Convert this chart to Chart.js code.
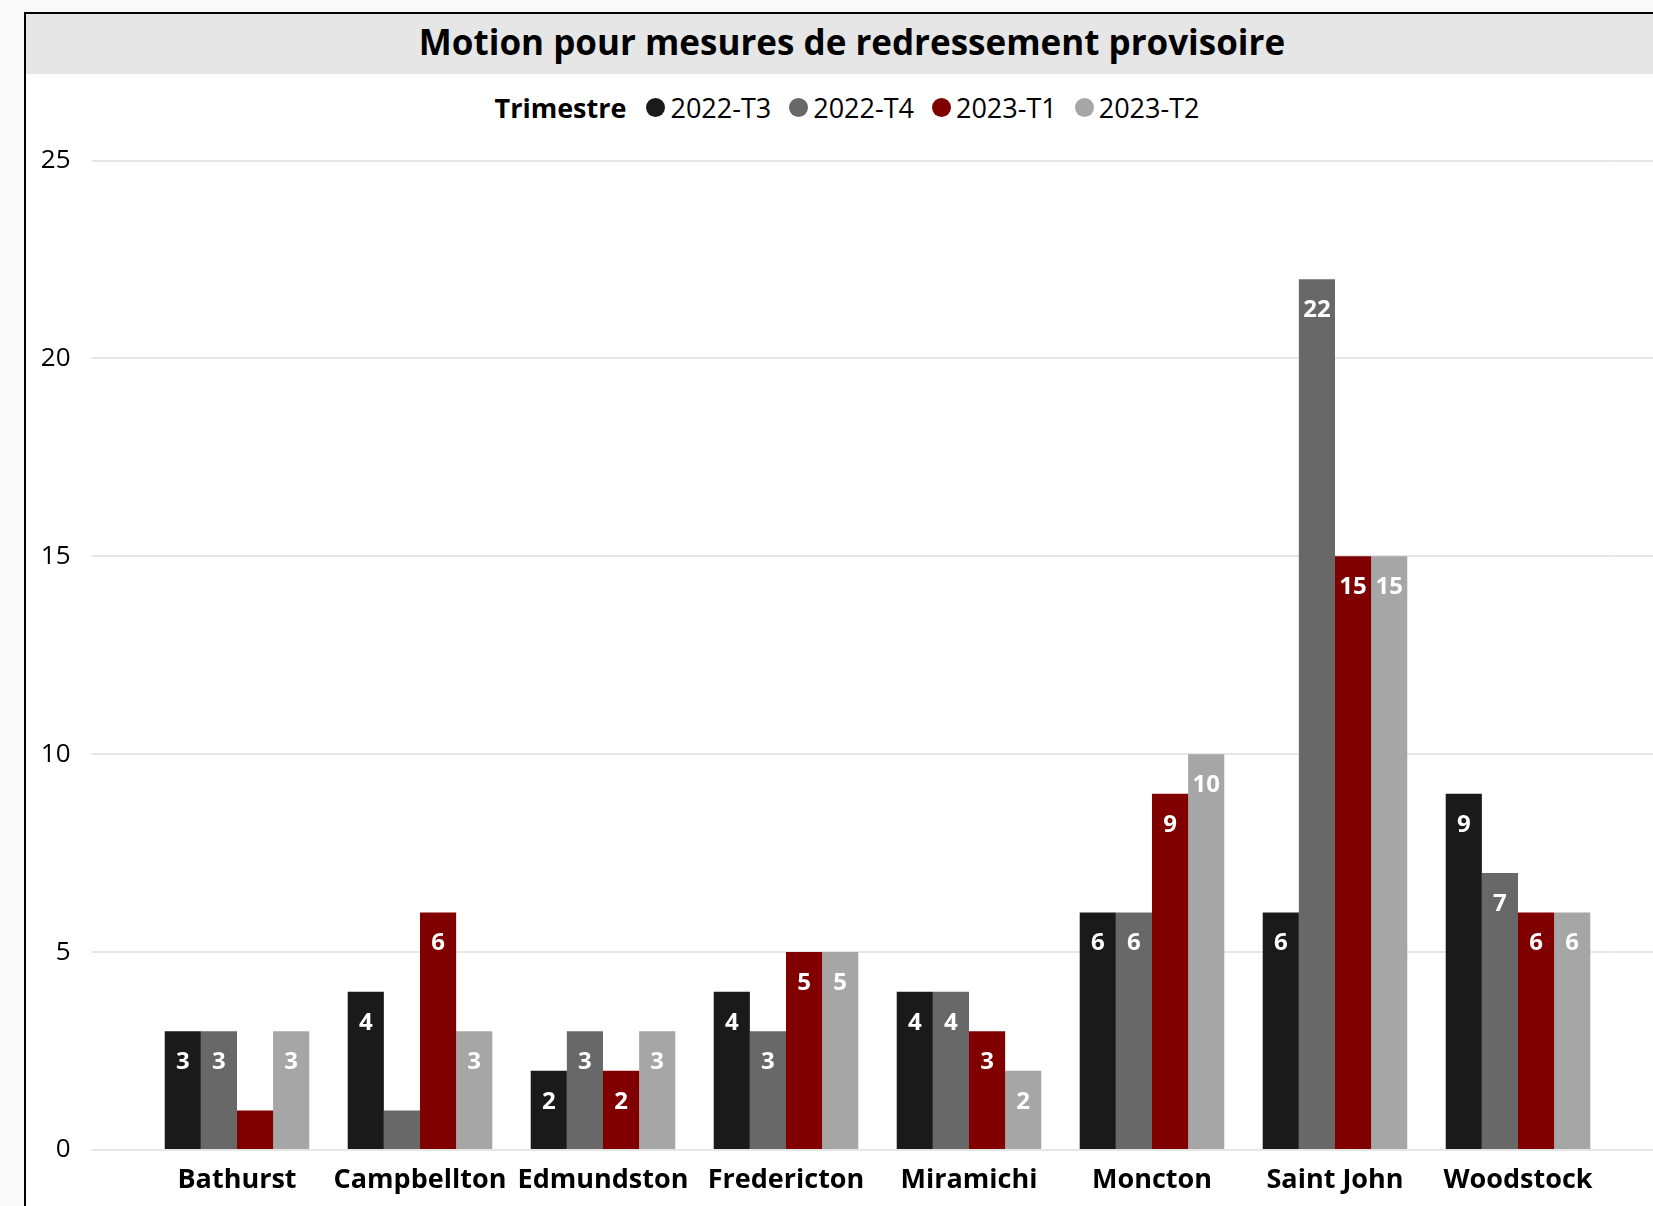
<!DOCTYPE html>
<html>
<head>
<meta charset="utf-8">
<script src="https://cdn.jsdelivr.net/npm/chart.js@4.4.1/dist/chart.umd.min.js"></script>
<style>
  html, body { margin:0; padding:0; }
  body { width:1653px; height:1206px; overflow:hidden; background:#f9f9f9; position:relative; font-family:'Open Sans', sans-serif; }
  #frame { position:absolute; left:24px; top:12px; width:1652px; height:1300px; background:#fff; border-left:2px solid #000; border-top:2px solid #000; }
  #title { position:absolute; left:0; top:0; width:1652px; height:60px; background:#e6e6e6; text-align:center; line-height:56px; font-weight:700; font-size:35px; color:#000; }
  #legend { position:absolute; left:0; top:73px; width:1652px; height:40px; display:flex; align-items:center; justify-content:center; font-size:27px; color:#000; padding-right:10px; box-sizing:border-box; }
  #legend .ttl { font-weight:700; margin-right:20px; }
  #legend .item { display:flex; align-items:center; margin-right:18px; }
  #legend .item:last-child { margin-right:0; }
  #legend .dot { width:19px; height:19px; border-radius:50%; margin-right:5px; }
  #cv { position:absolute; left:0; top:110px; }
</style>
</head>
<body>
<div id="frame">
  <div id="title">Motion pour mesures de redressement provisoire</div>
  <div id="legend"></div>
  <canvas id="cv" width="1652" height="1082"></canvas>
</div>
<script>
const categories = ["Bathurst","Campbellton","Edmundston","Fredericton","Miramichi","Moncton","Saint John","Woodstock"];
const seriesNames = ["2022-T3","2022-T4","2023-T1","2023-T2"];
const t2022T3 = [3,4,2,4,4,6,6,9];
const t2022T4 = [3,1,3,3,4,6,22,7];
const t2023T1 = [1,6,2,5,3,9,15,6];
const t2023T2 = [3,3,3,5,2,10,15,6];
const yTicks = [0,5,10,15,20,25];
const legendTitle = "Trimestre";

const colors = ["#1a1a1a","#686868","#800000","#a6a6a6"];
const seriesData = [t2022T3, t2022T4, t2023T1, t2023T2];
const gridColor = "#e6e6e6";

const valueLabels = {
  id: 'valueLabels',
  afterDatasetsDraw(chart) {
    const ctx = chart.ctx;
    ctx.save();
    ctx.font = "bold 24px 'Open Sans'";
    ctx.fillStyle = "#ffffff";
    ctx.textAlign = "center";
    ctx.textBaseline = "middle";
    chart.data.datasets.forEach((ds, di) => {
      const meta = chart.getDatasetMeta(di);
      meta.data.forEach((bar, i) => {
        const h = bar.base - bar.y;
        if (h >= 45) ctx.fillText(String(ds.data[i]), bar.x, bar.y + 31);
      });
    });
    ctx.restore();
  }
};

const chart = new Chart(document.getElementById('cv'), {
  type: 'bar',
  data: {
    labels: categories,
    datasets: seriesNames.map((n, k) => ({
      label: n,
      data: seriesData[k],
      backgroundColor: colors[k],
      borderWidth: 0,
      categoryPercentage: 0.79,
      barPercentage: 1.0
    }))
  },
  options: {
    responsive: false,
    animation: false,
    devicePixelRatio: 1,
    layout: { padding: { top: 25, left: 0, right: 0, bottom: 0 } },
    plugins: { legend: { display: false }, title: { display: false }, tooltip: { enabled: false } },
    scales: {
      x: {
        grid: { display: false },
        border: { display: false },
        ticks: { color: "#000", font: { family: "'Open Sans'", size: 27, weight: 'bold' }, padding: 6, maxRotation: 0, autoSkip: false },
        afterFit(s) { s.height = 56; }
      },
      y: {
        min: 0, max: 25,
        afterBuildTicks(s) { s.ticks = yTicks.map(v => ({ value: v })); },
        grid: { color: gridColor, lineWidth: 2, drawTicks: true, tickLength: 54, tickColor: gridColor },
        border: { display: false },
        ticks: { color: "#000", font: { family: "'Open Sans'", size: 26 }, padding: 21 },
        afterFit(s) { s.width = 119.5; }
      },
      y2: {
        position: 'right',
        min: 0, max: 25,
        afterBuildTicks(s) { s.ticks = yTicks.map(v => ({ value: v })); },
        grid: { color: gridColor, lineWidth: 2, drawOnChartArea: false, drawTicks: true, tickLength: 70, tickColor: gridColor },
        border: { display: false },
        ticks: { display: false },
        afterFit(s) { s.width = 68.5; }
      }
    }
  },
  plugins: [valueLabels]
});

const lg = document.getElementById('legend');
const t = document.createElement('span');
t.className = 'ttl'; t.textContent = legendTitle; lg.appendChild(t);
chart.data.datasets.forEach(ds => {
  const it = document.createElement('span'); it.className = 'item';
  const d = document.createElement('span'); d.className = 'dot'; d.style.background = ds.backgroundColor;
  const tx = document.createElement('span'); tx.textContent = ds.label;
  it.appendChild(d); it.appendChild(tx); lg.appendChild(it);
});
</script>
</body>
</html>
